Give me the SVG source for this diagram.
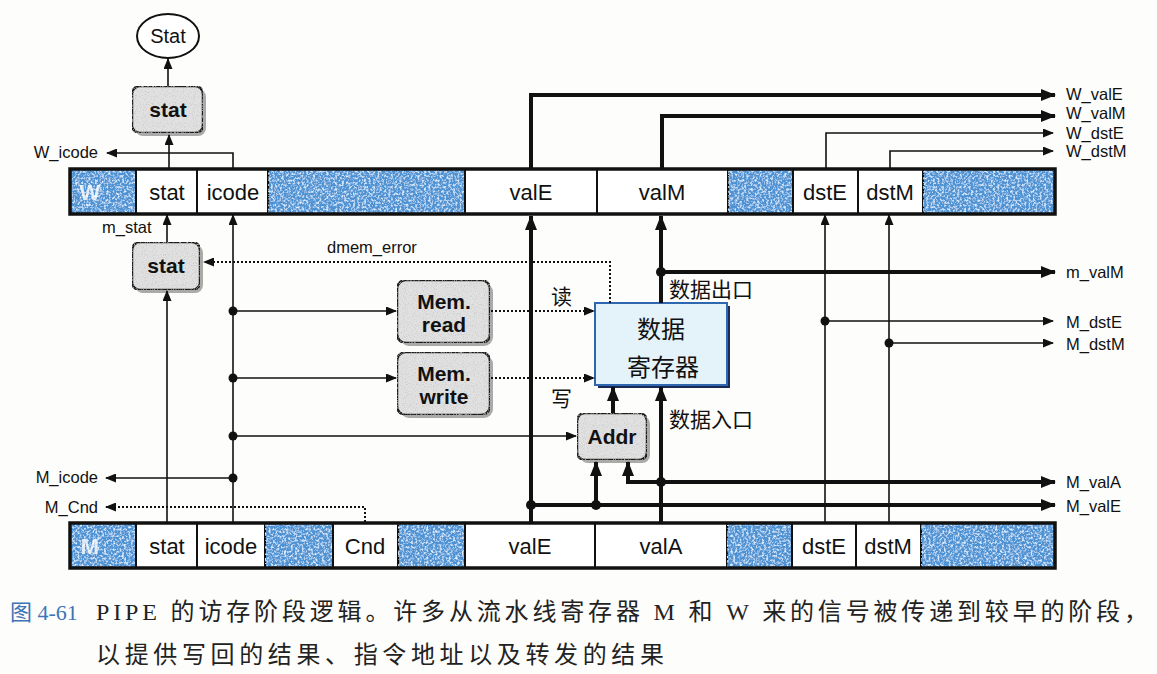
<svg xmlns="http://www.w3.org/2000/svg" width="1157" height="674" viewBox="0 0 1157 674">
<style>
.bg{fill:#fdfdfb}
.cell{fill:#ffffff;stroke:#111;stroke-width:2}
.blue{fill:#4d93d4;stroke:#111;stroke-width:2;filter:url(#tex)}
.bar{fill:none;stroke:#111;stroke-width:3.5}
.lbl{font-family:"Liberation Sans",Arial,sans-serif;font-size:22px;fill:#111;text-anchor:middle}
.reg{font-family:"Liberation Sans",Arial,sans-serif;font-size:22px;font-weight:bold;fill:#ffffff;opacity:.8;text-anchor:middle}
.sig{font-family:"Liberation Sans",Arial,sans-serif;font-size:16.5px;fill:#111}
.end{text-anchor:end}
.box{fill:#e1e1e1;stroke:#1a1a1a;stroke-width:2.5;filter:url(#grain)}
.shadow{fill:#666;opacity:.55}
.btxt{font-family:"Liberation Sans",Arial,sans-serif;font-size:21px;font-weight:bold;fill:#111;text-anchor:middle}
.cjk{font-family:"Noto Sans CJK SC",sans-serif;font-size:21px;fill:#111}
.thin{fill:none;stroke:#111;stroke-width:1.6}
.thick{fill:none;stroke:#111;stroke-width:4}
.dot{fill:none;stroke:#111;stroke-width:2;stroke-dasharray:2 2}
.cap{font-family:"Liberation Serif","Noto Sans CJK SC",serif;font-size:24px;fill:#222}
</style>
<defs>
<filter id="tex" x="0" y="0" width="100%" height="100%">
<feTurbulence type="fractalNoise" baseFrequency="0.45" numOctaves="3" seed="4" result="n"/>
<feColorMatrix in="n" type="matrix" values="0 0 0 0 0.7  0 0 0 0 0.85  0 0 0 0 1  3.2 0 0 0 -1.45" result="sp"/>
<feComposite in="sp" in2="SourceGraphic" operator="in" result="spc"/>
<feMerge><feMergeNode in="SourceGraphic"/><feMergeNode in="spc"/></feMerge>
</filter>
<filter id="grain" x="0" y="0" width="100%" height="100%">
<feTurbulence type="fractalNoise" baseFrequency="0.9" numOctaves="1" seed="7" result="n"/>
<feColorMatrix in="n" type="matrix" values="0 0 0 0 0.55  0 0 0 0 0.55  0 0 0 0 0.55  3 0 0 0 -1.5" result="sp"/>
<feComposite in="sp" in2="SourceGraphic" operator="in" result="spc"/>
<feMerge><feMergeNode in="SourceGraphic"/><feMergeNode in="spc"/></feMerge>
</filter>
<marker id="ah" markerUnits="userSpaceOnUse" markerWidth="11" markerHeight="9" refX="10" refY="4.5" orient="auto"><path d="M0,0 L11,4.5 L0,9 z" fill="#111"/></marker>
<marker id="ahk" markerUnits="userSpaceOnUse" markerWidth="15" markerHeight="12" refX="14" refY="6" orient="auto"><path d="M0,0 L15,6 L0,12 z" fill="#111"/></marker>
</defs>
<rect class="bg" x="0" y="0" width="1157" height="674"/>

<g id="W-register">
<rect class="blue" x="70" y="169" width="66" height="45"/>
<rect class="cell" x="136" y="169" width="61" height="45"/>
<rect class="cell" x="197" y="169" width="71" height="45"/>
<rect class="blue" x="268" y="169" width="197" height="45"/>
<rect class="cell" x="465" y="169" width="132" height="45"/>
<rect class="cell" x="597" y="169" width="131" height="45"/>
<rect class="blue" x="728" y="169" width="65" height="45"/>
<rect class="cell" x="793" y="169" width="65" height="45"/>
<rect class="cell" x="858" y="169" width="65" height="45"/>
<rect class="blue" x="923" y="169" width="132" height="45"/>
<rect class="bar" x="70" y="169" width="985" height="45"/>
<text class="reg" x="90" y="200">W</text>
<text class="lbl" x="167" y="200">stat</text>
<text class="lbl" x="233" y="200">icode</text>
<text class="lbl" x="531" y="200">valE</text>
<text class="lbl" x="662" y="200">valM</text>
<text class="lbl" x="825" y="200">dstE</text>
<text class="lbl" x="890" y="200">dstM</text>
</g>

<g id="M-register">
<rect class="blue" x="70" y="523" width="66" height="45"/>
<rect class="cell" x="136" y="523" width="61" height="45"/>
<rect class="cell" x="197" y="523" width="68" height="45"/>
<rect class="blue" x="265" y="523" width="68" height="45"/>
<rect class="cell" x="333" y="523" width="65" height="45"/>
<rect class="blue" x="398" y="523" width="67" height="45"/>
<rect class="cell" x="465" y="523" width="130" height="45"/>
<rect class="cell" x="595" y="523" width="132" height="45"/>
<rect class="blue" x="727" y="523" width="65" height="45"/>
<rect class="cell" x="792" y="523" width="64" height="45"/>
<rect class="cell" x="856" y="523" width="65" height="45"/>
<rect class="blue" x="921" y="523" width="134" height="45"/>
<rect class="bar" x="70" y="523" width="985" height="45"/>
<text class="reg" x="90" y="554">M</text>
<text class="lbl" x="167" y="554">stat</text>
<text class="lbl" x="231" y="554">icode</text>
<text class="lbl" x="365" y="554">Cnd</text>
<text class="lbl" x="530" y="554">valE</text>
<text class="lbl" x="661" y="554">valA</text>
<text class="lbl" x="824" y="554">dstE</text>
<text class="lbl" x="888" y="554">dstM</text>
</g>

<g id="Stat-out">
<ellipse cx="168" cy="36" rx="31" ry="22" fill="#fff" stroke="#111" stroke-width="2"/>
<text class="lbl" x="168" y="43" style="font-size:20px">Stat</text>
</g>

<g id="stat-W">
<rect class="shadow" x="135" y="89" width="71" height="47" rx="8"/>
<rect class="box" x="132" y="86" width="71" height="47" rx="8"/>
<text class="btxt" x="168" y="117">stat</text>
</g>

<g id="stat-M">
<rect class="shadow" x="135" y="245" width="68" height="48" rx="8"/>
<rect class="box" x="132" y="242" width="68" height="48" rx="8"/>
<text class="btxt" x="166" y="273">stat</text>
</g>

<g id="mem-read">
<rect class="shadow" x="400" y="283" width="93" height="63" rx="9"/>
<rect class="box" x="397" y="280" width="93" height="63" rx="9"/>
<text class="btxt" x="444" y="309">Mem.</text>
<text class="btxt" x="444" y="332">read</text>
</g>

<g id="mem-write">
<rect class="shadow" x="400" y="355" width="93" height="63" rx="9"/>
<rect class="box" x="397" y="352" width="93" height="63" rx="9"/>
<text class="btxt" x="444" y="381">Mem.</text>
<text class="btxt" x="444" y="404">write</text>
</g>

<g id="addr">
<rect class="shadow" x="580" y="416" width="70" height="47" rx="8"/>
<rect class="box" x="577" y="413" width="70" height="47" rx="8"/>
<text class="btxt" x="612" y="444">Addr</text>
</g>

<g id="data-memory">
<rect x="598" y="306" width="132" height="82" fill="#1b2a55"/>
<rect x="595" y="303" width="132" height="82" fill="#e4f2fa" stroke="#2f66b0" stroke-width="2"/>
<text class="cjk" x="661" y="338" text-anchor="middle" style="font-size:24px">数据</text>
<text class="cjk" x="663" y="376" text-anchor="middle" style="font-size:24px">寄存器</text>
</g>

<g id="connectors">
<path class="thin" d="M169,168 V135" marker-end="url(#ah)"/>
<path class="thin" d="M168,86 V59" marker-end="url(#ah)"/>
<path class="thin" d="M233,168 V153 H107" marker-end="url(#ah)"/>
<path class="thin" d="M167,242 V215" marker-end="url(#ah)"/>
<path class="thin" d="M233,523 V215" marker-end="url(#ah)"/>
<path class="thin" d="M167,523 V291" marker-end="url(#ah)"/>
<path class="dot" d="M610,303 V262 H204" marker-end="url(#ah)"/>
<path class="thin" d="M233,311 H396" marker-end="url(#ah)"/>
<path class="thin" d="M233,378 H396" marker-end="url(#ah)"/>
<path class="thin" d="M233,436 H576" marker-end="url(#ah)"/>
<path class="thin" d="M233,478 H106" marker-end="url(#ah)"/>
<path class="dot" d="M365,522 V507 H106" marker-end="url(#ah)"/>
<path class="dot" d="M491,311 H594" marker-end="url(#ah)"/>
<path class="dot" d="M491,378 H594" marker-end="url(#ah)"/>
<path class="thick" d="M531,523 V216" marker-end="url(#ahk)"/>
<path class="thick" d="M531,168 V95 H1055" marker-end="url(#ahk)"/>
<path class="thick" d="M662,168 V116 H1055" marker-end="url(#ahk)"/>
<path class="thin" d="M826,168 V133 H1053" marker-end="url(#ah)"/>
<path class="thin" d="M890,168 V151 H1053" marker-end="url(#ah)"/>
<path class="thick" d="M661,303 V216" marker-end="url(#ahk)"/>
<path class="thick" d="M661,272 H1055" marker-end="url(#ahk)"/>
<path class="thin" d="M825,523 V215" marker-end="url(#ah)"/>
<path class="thin" d="M889,523 V215" marker-end="url(#ah)"/>
<path class="thin" d="M825,321 H1053" marker-end="url(#ah)"/>
<path class="thin" d="M889,343 H1053" marker-end="url(#ah)"/>
<path class="thick" d="M661,523 V387" marker-end="url(#ahk)"/>
<path class="thick" d="M661,482 H1055" marker-end="url(#ahk)"/>
<path class="thick" d="M661,482 H628 V462" marker-end="url(#ahk)"/>
<path class="thick" d="M531,505 H1055" marker-end="url(#ahk)"/>
<path class="thick" d="M596,505 V462" marker-end="url(#ahk)"/>
<path class="thick" d="M613,413 V387" marker-end="url(#ahk)"/>
<g fill="#111">
<circle cx="233" cy="311" r="4.5"/>
<circle cx="233" cy="378" r="4.5"/>
<circle cx="233" cy="436" r="4.5"/>
<circle cx="233" cy="478" r="4.5"/>
<circle cx="661" cy="272" r="5"/>
<circle cx="825" cy="321" r="4.5"/>
<circle cx="889" cy="343" r="4.5"/>
<circle cx="661" cy="482" r="5"/>
<circle cx="531" cy="505" r="5"/>
<circle cx="596" cy="505" r="5"/>
</g>
</g>

<g id="signal-labels">
<text class="sig end" x="98" y="158">W_icode</text>
<text class="sig" x="102" y="233">m_stat</text>
<text class="sig" x="327" y="253">dmem_error</text>
<text class="sig end" x="98" y="483">M_icode</text>
<text class="sig end" x="98" y="513">M_Cnd</text>
<text class="sig" x="1066" y="100">W_valE</text>
<text class="sig" x="1066" y="119">W_valM</text>
<text class="sig" x="1066" y="139">W_dstE</text>
<text class="sig" x="1066" y="157">W_dstM</text>
<text class="sig" x="1066" y="278">m_valM</text>
<text class="sig" x="1066" y="328">M_dstE</text>
<text class="sig" x="1066" y="350">M_dstM</text>
<text class="sig" x="1066" y="488">M_valA</text>
<text class="sig" x="1066" y="512">M_valE</text>
<text class="cjk" x="551" y="304">读</text>
<text class="cjk" x="551" y="406">写</text>
<text class="cjk" x="669" y="297">数据出口</text>
<text class="cjk" x="669" y="427">数据入口</text>
</g>

<g id="caption">
<text class="cap" x="10" y="620" style="fill:#3d74b8;font-size:22px">图 4-61</text>
<text class="cap" x="96" y="620" textLength="1052" lengthAdjust="spacing">PIPE 的访存阶段逻辑。许多从流水线寄存器 M 和 W 来的信号被传递到较早的阶段，</text>
<text class="cap" x="96" y="663" textLength="568" lengthAdjust="spacing">以提供写回的结果、指令地址以及转发的结果</text>
</g>
</svg>
